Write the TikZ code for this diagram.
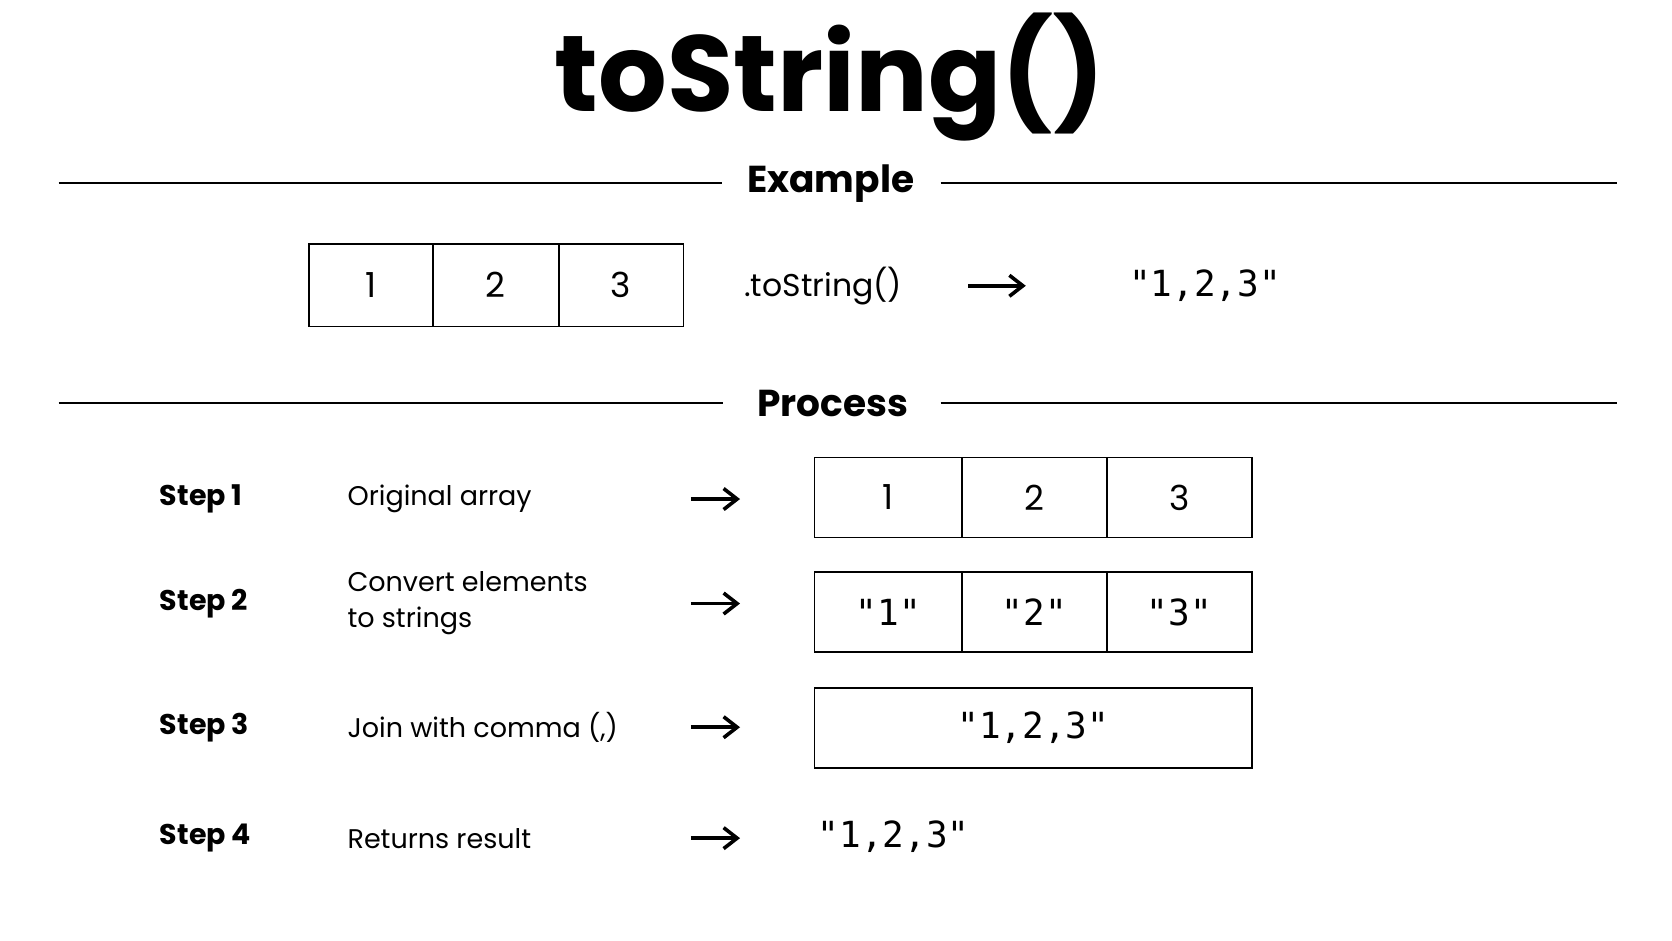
\documentclass[tikz,border=0pt]{standalone}
\usepackage{fontspec}
\setmainfont{Poppins}
\newfontfamily\mono{DejaVu Sans Mono}
\usetikzlibrary{arrows.meta}
\begin{document}
\begin{tikzpicture}[x=0.025cm,y=-0.025cm,
 rule/.style={line width=1.3pt},
 box/.style={draw,line width=1pt,minimum height=75*0.025cm,inner sep=0},
 arr/.style={-{Straight Barb[length=9pt,width=14pt]},line width=2.4pt},
 steplbl/.style={anchor=west,font=\fontsize{19}{24}\selectfont\bfseries},
 desc/.style={anchor=west,align=left,font=\fontsize{18}{24}\selectfont},
 num/.style={font=\fontsize{23}{28}\selectfont},
 str/.style={font=\mono\fontsize{24}{28}\selectfont}]
\useasboundingbox (0,0) rectangle (1568,882);
\node (title) at (778,72) {\fontsize{72}{84}\selectfont\bfseries toString()};
\node (ex) at (779,172) {\fontsize{25}{30}\selectfont\bfseries Example};
\draw[rule] (55,172) -- (677,172); \draw[rule] (882,172) -- (1516,172);
\node (pr) at (781,378) {\fontsize{25}{30}\selectfont\bfseries Process};
\draw[rule] (55,378) -- (678,378); \draw[rule] (882,378) -- (1516,378);
% example
\foreach \a/\b/\t [count=\i] in {290/406/1,406/524/2,524/641/3}
 \node[box,num,minimum width=(\b-\a)*0.025cm,minimum height=77*0.025cm] (e\i) at ({(\a+\b)/2},267.5) {\t};
\node[num,font=\fontsize{21}{26}\selectfont] (call) at (772,268) {.toString()};
\coordinate (ea1) at (908,268); \coordinate (ea2) at (962,268);
\draw[arr] (ea1) -- (ea2);
\node[str] (eres) at (1130,268) {"1,2,3"};
% steps
\foreach \y/\s/\d in {468/Step 1/Original array,566/Step 2/{Convert elements\\to strings},682/Step 3/{Join with comma (,)},786/Step 4/Returns result}{
 \node[steplbl] at (145,\y) {\s};
 \node[desc] at (321,\y) {\d};
 \draw[arr] (648,\y) -- (694,\y);}
\foreach \a/\b/\t [count=\i] in {764/902/1,902/1038/2,1038/1174/3}
 \node[box,num,minimum width=(\b-\a)*0.025cm] (r\i) at ({(\a+\b)/2},466.5) {\t};
\foreach \a/\b/\t [count=\i] in {764/902/1,902/1038/2,1038/1174/3}
 \node[box,str,minimum width=(\b-\a)*0.025cm] (s\i) at ({(\a+\b)/2},574) {"\t"};
\node[box,str,minimum width=410*0.025cm] (j) at (969,682.5) {"1,2,3"};
\node[str,anchor=west] (res) at (762,785) {"1,2,3"};
\end{tikzpicture}
\end{document}
